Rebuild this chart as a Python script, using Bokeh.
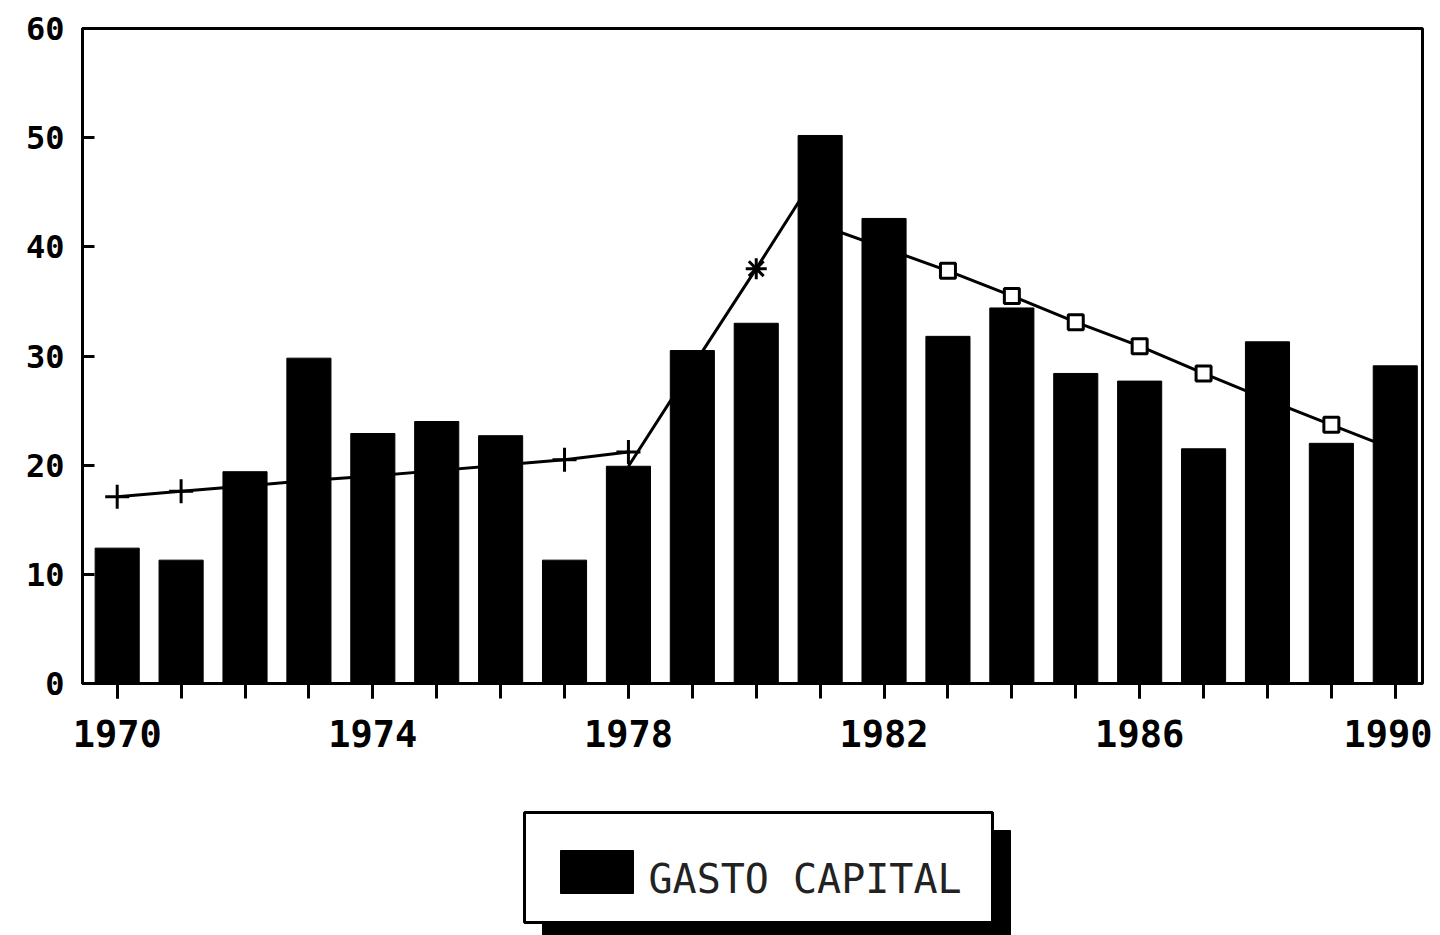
from bokeh.plotting import figure
from bokeh.models import Range1d, FixedTicker
from bokeh.layouts import column
from bokeh.core.properties import value
from bokeh.embed import file_html
from bokeh.resources import INLINE

# ---- data ----
years = list(range(1970, 1991))
gasto_capital = [12.4, 11.3, 19.4, 29.8, 22.9, 24.0, 22.7, 11.3, 19.9, 30.5,
                 33.0, 50.2, 42.6, 31.8, 34.4, 28.4, 27.7, 21.5, 31.3, 22.0, 29.1]

trend_years = [1970, 1971, 1972, 1973, 1974, 1975, 1976, 1977, 1978]
trend_vals = [17.1, 17.6, 18.1, 18.6, 19.0, 19.5, 20.0, 20.5, 21.2]

surge_years = [1978, 1979, 1980, 1981]
surge_vals = [19.9, 29.0, 38.0, 47.2]

decline_years = [1981, 1982, 1983, 1984, 1985, 1986, 1987, 1988, 1989, 1990]
decline_vals = [42.0, 39.9, 37.8, 35.5, 33.1, 30.9, 28.4, 26.0, 23.7, 21.4]

x_tick_labels = [1970, 1974, 1978, 1982, 1986, 1990]
y_ticks = [0, 10, 20, 30, 40, 50, 60]
legend_label = "GASTO CAPITAL"

# ---- main chart ----
p = figure(width=1432, height=780, output_backend="svg", toolbar_location=None,
           x_range=Range1d(1969.457, 1990.426), y_range=Range1d(0, 60),
           min_border_left=82, min_border_right=10, min_border_top=28,
           min_border_bottom=97)
p.xgrid.visible = False
p.ygrid.visible = False
p.outline_line_color = "black"
p.outline_line_width = 3
p.background_fill_color = "white"
p.border_fill_color = "white"

# lines (behind bars)
p.line(trend_years, trend_vals, line_color="black", line_width=3)
p.scatter(trend_years, trend_vals, marker="cross", size=24, line_width=3, color="black")
p.line(surge_years, surge_vals, line_color="black", line_width=3)
p.scatter(surge_years[1:], surge_vals[1:], marker="asterisk", size=21, line_width=3, color="black")
p.line(decline_years, decline_vals, line_color="black", line_width=3)
p.scatter(decline_years, decline_vals, marker="square", size=15, line_width=3,
          line_color="black", fill_color="white")

# bars
p.vbar(x=years, top=gasto_capital, bottom=0, width=0.69,
       fill_color="black", line_color="black")

# x axis
p.xaxis.ticker = FixedTicker(ticks=x_tick_labels, minor_ticks=years)
p.xaxis.axis_line_width = 3
p.xaxis.major_tick_in = 0
p.xaxis.major_tick_out = 15
p.xaxis.minor_tick_in = 0
p.xaxis.minor_tick_out = 15
p.xaxis.major_tick_line_width = 3
p.xaxis.minor_tick_line_width = 3
p.xaxis.major_label_text_font = "DejaVu Sans Mono"
p.xaxis.major_label_text_font_size = "37px"
p.xaxis.major_label_text_font_style = "bold"
p.xaxis.major_label_text_color = "black"
p.xaxis.major_label_standoff = 21

# y axis
p.yaxis.ticker = FixedTicker(ticks=y_ticks)
p.yaxis.axis_line_width = 3
p.yaxis.major_tick_in = 12
p.yaxis.major_tick_out = 0
p.yaxis.major_tick_line_width = 3
p.yaxis.minor_tick_line_color = None
p.yaxis.major_label_text_font = "DejaVu Sans Mono"
p.yaxis.major_label_text_font_size = "32px"
p.yaxis.major_label_text_font_style = "bold"
p.yaxis.major_label_text_color = "black"
p.yaxis.major_label_standoff = 18

# ---- legend panel (page pixel coordinates; frame aligned with main frame 82..1422) ----
q = figure(width=1432, height=155, output_backend="svg", toolbar_location=None,
           x_range=Range1d(82, 1422), y_range=Range1d(935, 780),
           x_axis_location=None, y_axis_location=None,
           min_border_left=82, min_border_right=10, min_border_top=0, min_border_bottom=0)
q.xgrid.visible = False
q.ygrid.visible = False
q.outline_line_color = None
q.background_fill_color = "white"
q.border_fill_color = "white"

q.quad(left=[542], right=[1010], top=[830], bottom=[935], fill_color="black", line_color="black")
q.quad(left=[524], right=[992], top=[812], bottom=[922], fill_color="white",
       line_color="black", line_width=3)
q.quad(left=[560], right=[633], top=[850], bottom=[893], fill_color="black", line_color="black")
q.text(x=[648], y=[878], text=[legend_label], text_font=value("DejaVu Sans Mono"),
       text_font_size="40px", text_baseline="alphabetic", text_align="left",
       text_color="#222222")

layout = column(p, q, spacing=0)
open("out.html", "w").write(file_html(layout, INLINE))
